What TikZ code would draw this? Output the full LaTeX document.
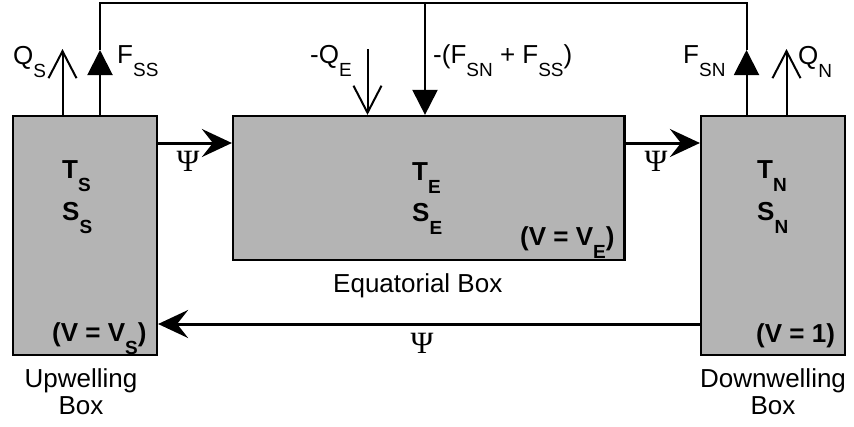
\documentclass[tikz,border=0pt]{standalone}
\usepackage{fontspec}
\setmainfont{Liberation Sans}
\newfontfamily\psifont{Liberation Serif}
\usetikzlibrary{arrows.meta,calc}
\definecolor{BoxGray}{RGB}{180,180,180}
\newcommand{\lowidx}[1]{\raisebox{-0.5em}{\fontsize{19}{19}\selectfont #1}}

\begin{document}
\begin{tikzpicture}[x=1pt, y=-1pt,
  every node/.style={font=\fontsize{26}{27}\selectfont, inner sep=0pt},
  box/.style={draw, line width=2.2pt, fill=BoxGray},
  lbl/.style={anchor=base west},
  var/.style={anchor=base west, font=\fontsize{26}{27}\selectfont\bfseries},
  psi/.style={font=\fontsize{31}{31}\psifont},
  heat/.style={line width=2pt, -{Straight Barb[length=27pt,width=28pt]}},
  flux/.style={line width=2pt, -{Triangle[length=25pt,width=25pt]}},
  psiflow/.style={line width=3pt, -{Stealth[length=30pt,width=28pt,inset=11pt]}}]
  \useasboundingbox (0,0) rectangle (854,426);
  % the three boxes
  \node[box, minimum width=144pt, minimum height=239pt] (upbox) at (85,235.5) {};
  \node[box, minimum width=391.5pt, minimum height=144pt] (eqbox) at (428.75,188) {};
  \node[box, minimum width=144pt, minimum height=239pt] (downbox) at (773,235.5) {};
  % box contents
  \node[var] (ts) at (62,178) {T\lowidx{S}};
  \node[var] (ss) at (62,220) {S\lowidx{S}};
  \node[var] (vs) at (52,341) {(V = V\lowidx{S})};
  \node[var] (te) at (412,180) {T\lowidx{E}};
  \node[var] (se) at (412,221) {S\lowidx{E}};
  \node[var] (ve) at (520,245) {(V = V\lowidx{E})};
  \node[var] (tn) at (757,178) {T\lowidx{N}};
  \node[var] (sn) at (757,220) {S\lowidx{N}};
  \node[var] (vn) at (756,342) {(V = 1)};
  % box names
  \node[lbl] (eqname) at (333,292) {Equatorial Box};
  \node[anchor=north, align=center] (upname) at (81,368) {Upwelling\\Box};
  \node[anchor=north, align=center] (downname) at (773,368) {Downwelling\\Box};
  % surface fluxes
  \coordinate (qsTip) at (62.5,49);
  \coordinate (qeTop) at (367.5,49);
  \coordinate (qnTip) at (786.5,49);
  \draw[heat] (upbox.north -| qsTip) -- (qsTip);
  \draw[heat] (qeTop) -- (eqbox.north -| qeTop);
  \draw[heat] (downbox.north -| qnTip) -- (qnTip);
  \node[lbl] (qs) at (13,64) {Q\lowidx{S}};
  \node[lbl] (qe) at (310,63) {-Q\lowidx{E}};
  \node[lbl] (qn) at (798,64) {Q\lowidx{N}};
  % salt flux loop
  \coordinate (fssTip) at (100,50);
  \coordinate (fsnTip) at (746.5,50);
  \coordinate (topL) at (100,2.5);
  \coordinate (topR) at (746.5,2.5);
  \coordinate (topC) at (425,2.5);
  \draw[flux] (upbox.north -| fssTip) -- (fssTip);
  \draw[flux] (downbox.north -| fsnTip) -- (fsnTip);
  \draw[line width=2pt] (fssTip) -- (topL) -- (topR) -- (fsnTip);
  \draw[flux] (topC) -- (eqbox.north -| topC);
  \node[lbl] (fss) at (117,63) {F\lowidx{SS}};
  \node[lbl] (fsn) at (683,63) {F\lowidx{SN}};
  \node[lbl] (fsum) at (433,63) {-(F\lowidx{SN} + F\lowidx{SS})};
  % overturning
  \coordinate (psiTop) at (0,143);
  \coordinate (psiBot) at (0,324);
  \draw[psiflow] (upbox.east |- psiTop) -- (eqbox.west |- psiTop);
  \draw[psiflow] (eqbox.east |- psiTop) -- (downbox.west |- psiTop);
  \draw[psiflow] (downbox.west |- psiBot) -- (upbox.east |- psiBot);
  \node[psi] (psiA) at (188,161) {Ψ};
  \node[psi] (psiB) at (656,161) {Ψ};
  \node[psi] (psiC) at (422,343) {Ψ};
\end{tikzpicture}
\end{document}
